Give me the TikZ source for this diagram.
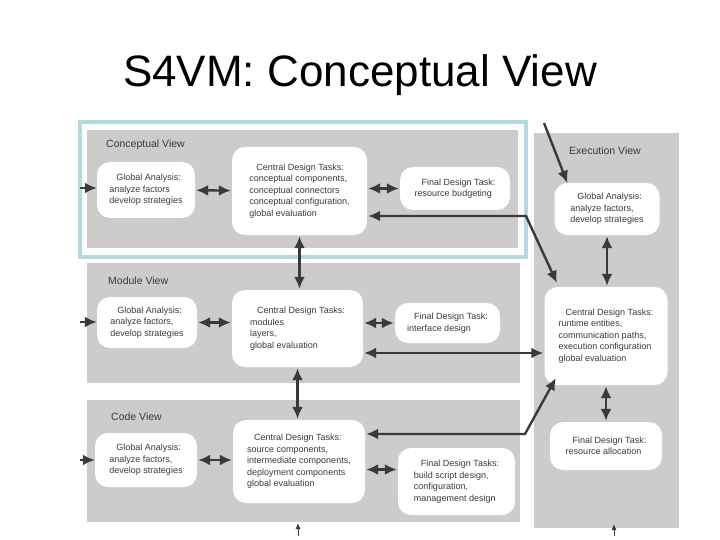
\documentclass[tikz,border=0pt]{standalone}
\usepackage{fontspec}
\setmainfont{Liberation Sans}
\usetikzlibrary{arrows.meta,positioning,calc}

\definecolor{scan}{RGB}{204,204,204}
\definecolor{ink}{RGB}{58,58,58}
\definecolor{frameblue}{RGB}{180,218,224}
\newcommand{\hd}[1]{\hspace*{7pt}#1}

\begin{document}
\begin{tikzpicture}[
    x=1pt, y=-1pt,
    view/.style={fill=scan},
    vlabel/.style={anchor=west, inner sep=0pt, text=ink,
                   font=\fontsize{10.5}{12}\selectfont},
    task/.style={fill=white, rounded corners=13pt, align=left, inner sep=0pt,
                 text=ink, font=\fontsize{9}{11.5}\selectfont},
    arrow/.style={-{Latex[length=12pt,width=11pt]}, line width=2.4pt, draw=ink},
    dbl/.style={{Latex[length=12pt,width=11pt]}-{Latex[length=12pt,width=11pt]},
                line width=2.4pt, draw=ink, shorten <=1pt, shorten >=1pt},
    tip/.style={-{Latex[length=6pt,width=5pt]}, line width=1pt, draw=ink}
  ]
    \useasboundingbox (0,0) rectangle (720,540);

    \node[font=\fontsize{44}{50}\selectfont, anchor=base] (title) at (360,87)
        {S4VM: Conceptual View};

    % views
    \fill[view] (87,130) rectangle (518,248);
    \fill[view] (87,263) rectangle (520,383);
    \fill[view] (87,400) rectangle (520,522);
    \fill[view] (534,133) rectangle (679,528);
    \draw[frameblue, line width=4pt] (80,122) rectangle (526,257);

    \node[vlabel] (lcv) at (106,145) {Conceptual View};
    \node[vlabel] (lmv) at (108,281) {Module View};
    \node[vlabel] (lcd) at (111,417) {Code View};
    \node[vlabel] (lev) at (569,151) {Execution View};

    % conceptual view
    \node[task, minimum width=98pt, minimum height=56pt] (ga1) at (146,190)
        {\hd{Global Analysis:}\\analyze factors\\develop strategies};
    \node[task, minimum width=135pt, minimum height=88pt] (cdt1) at (299.5,191)
        {\hd{Central Design Tasks:}\\conceptual components,\\conceptual connectors\\conceptual configuration,\\global evaluation};
    \node[task, minimum width=110pt, minimum height=43pt] (fdt1) at (455,188.5)
        {\hd{Final Design Task:}\\resource budgeting};

    % module view
    \node[task, minimum width=100pt, minimum height=51pt] (ga2) at (147,322.5)
        {\hd{Global Analysis:}\\analyze factors,\\develop strategies};
    \node[task, minimum width=131pt, minimum height=77pt] (cdt2) at (297.5,328.5)
        {\hd{Central Design Tasks:}\\modules\\layers,\\global evaluation};
    \node[task, minimum width=105pt, minimum height=40pt] (fdt2) at (447.5,323)
        {\hd{Final Design Task:}\\interface design};

    % code view
    \node[task, minimum width=102pt, minimum height=54pt] (ga3) at (146,460)
        {\hd{Global Analysis:}\\analyze factors,\\develop strategies};
    \node[task, minimum width=132pt, minimum height=83pt] (cdt3) at (299,461.5)
        {\hd{Central Design Tasks:}\\source components,\\intermediate components,\\deployment components\\global evaluation};
    \node[task, minimum width=117pt, minimum height=67pt] (fdt3) at (456.5,481.5)
        {\hd{Final Design Tasks:}\\build script design,\\configuration,\\management design};

    % execution view
    \node[task, minimum width=105pt, minimum height=52pt] (ga4) at (607,209)
        {\hd{Global Analysis:}\\analyze factors,\\develop strategies};
    \node[task, minimum width=123pt, minimum height=98pt] (cdt4) at (606,336)
        {\hd{Central Design Tasks:}\\runtime entities,\\communication paths,\\execution configuration\\global evaluation};
    \node[task, minimum width=112pt, minimum height=48pt] (fdt4) at (606,446)
        {\hd{Final Design Task:}\\resource allocation};

    \coordinate (in1) at (80,188);
    \coordinate (in2) at (80,322);
    \coordinate (in3) at (80,460);
    \coordinate (in4) at (544,123);
    \coordinate (j1) at (526,216);
    \coordinate (j2) at (450,353);
    \coordinate (j3) at (525,434);
    \coordinate (b1) at (298,536);
    \coordinate (b1t) at (298,523);
    \coordinate (b2) at (614,536);
    \coordinate (b2t) at (614,524);

    \draw[arrow] (in1) -- (in1 -| ga1.west);
    \draw[arrow] (in2) -- (in2 -| ga2.west);
    \draw[arrow] (in3) -- (in3 -| ga3.west);

    \draw[dbl] (ga1) -- (cdt1);
    \draw[dbl] (cdt1.east |- fdt1.west) -- (fdt1.west);
    \draw[dbl] (ga2.east) -- (ga2.east -| cdt2.west);
    \draw[dbl] (cdt2.east |- fdt2.west) -- (fdt2.west);
    \draw[dbl] (ga3.east) -- (ga3.east -| cdt3.west);
    \draw[dbl] ([yshift=12pt]fdt3.west -| cdt3.east) -- ([yshift=12pt]fdt3.west);

    \draw[dbl] (cdt1.south) -- (cdt1.south |- cdt2.north);
    \draw[dbl] (cdt2.south) -- (cdt2.south |- cdt3.north);

    \draw[dbl] (j1 -| cdt1.east) -- (j1) -- ($(cdt4.north west)+(13,-3)$);
    \draw[dbl] (j2 -| cdt2.east) -- (j2 -| cdt4.west);
    \draw[dbl] (j3 -| cdt3.east) -- (j3) -- ($(cdt4.south west)+(12,-8)$);

    \draw[arrow] (in4) -- ($(ga4.north west)+(13,0)$);
    \draw[dbl] (ga4.south) -- (ga4.south |- cdt4.north);
    \draw[dbl] (cdt4.south) -- (cdt4.south |- fdt4.north);

    \draw[tip] (b1) -- (b1t);
    \draw[tip] (b2) -- (b2t);
\end{tikzpicture}
\end{document}
